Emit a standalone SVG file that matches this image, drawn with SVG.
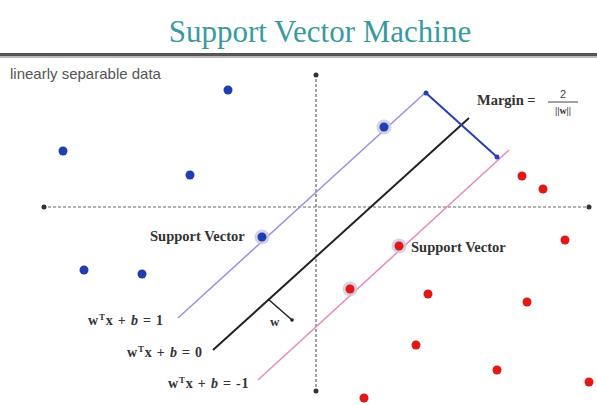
<svg xmlns="http://www.w3.org/2000/svg" width="597" height="405" viewBox="0 0 597 405">
<style>
.title{font-family:"Liberation Serif","Times New Roman",serif;font-size:31px;fill:#3a9a9c}
.lbl{font-family:"Liberation Serif","Times New Roman",serif;font-weight:bold;font-size:14.5px;fill:#333}
.eq{font-family:"Liberation Serif","Times New Roman",serif;font-weight:bold;font-size:14px;fill:#333;letter-spacing:0.8px}
.sans{font-family:"Liberation Sans",Arial,sans-serif;font-size:15px;fill:#555}
.axis{stroke:#666;stroke-width:1.2;stroke-dasharray:3,2;fill:none}
.blue{fill:#1f3fae}
.red{fill:#e01818}
.halo{fill:#c8c8dc;opacity:0.8}
</style>
<rect width="597" height="405" fill="#fff"/>
<text class="title" x="320" y="42" text-anchor="middle">Support Vector Machine</text>
<rect x="0" y="53" width="597" height="3" fill="#555"/>
<rect x="0" y="56" width="597" height="2" fill="#bbb"/>
<text class="sans" x="10" y="79">linearly separable data</text>
<g id="axes">
<line class="axis" x1="43" y1="207" x2="590" y2="207"/>
<line class="axis" x1="316" y1="74" x2="316" y2="392"/>
<circle cx="44" cy="207" r="2.5" fill="#333"/>
<circle cx="589" cy="207" r="2.5" fill="#333"/>
<circle cx="316" cy="75" r="2.5" fill="#333"/>
<circle cx="316" cy="391" r="2.5" fill="#333"/>
</g>
<g id="connectors">
<line id="hplus" x1="178" y1="318" x2="426" y2="92" stroke="#9a8ee0" stroke-width="1.5"/>
<line id="hzero" x1="213" y1="350" x2="469" y2="118" stroke="#222" stroke-width="2"/>
<line id="hminus" x1="258" y1="380" x2="509" y2="150" stroke="#e58ac0" stroke-width="1.5"/>
<line id="margin" x1="426" y1="93" x2="497" y2="157" stroke="#2a3fb0" stroke-width="2"/>
<circle cx="426" cy="93" r="2.5" fill="#2a3fb0"/>
<circle cx="497" cy="157" r="2.5" fill="#2a3fb0"/>
<line id="wvec" x1="268" y1="299" x2="292" y2="320" stroke="#222" stroke-width="1.5"/>
<circle cx="292" cy="320" r="1.8" fill="#222"/>
</g>
<g id="blue-points">
<circle class="blue" cx="228" cy="90" r="4.5"/>
<circle class="blue" cx="63" cy="151" r="4.5"/>
<circle class="blue" cx="190" cy="175" r="4.5"/>
<circle class="blue" cx="84" cy="270" r="4.5"/>
<circle class="blue" cx="142" cy="274" r="4.5"/>
<circle class="halo" cx="384" cy="127" r="7.5"/>
<circle class="blue" cx="384" cy="127" r="4.5"/>
<circle class="halo" cx="262" cy="237" r="7.5"/>
<circle class="blue" cx="262" cy="237" r="4.5"/>
</g>
<g id="red-points">
<circle class="red" cx="522" cy="176" r="4.5"/>
<circle class="red" cx="543" cy="189" r="4.5"/>
<circle class="red" cx="565" cy="240" r="4.5"/>
<circle class="halo" cx="399" cy="246" r="7.5"/>
<circle class="red" cx="399" cy="246" r="4.5"/>
<circle class="halo" cx="350" cy="289" r="7.5"/>
<circle class="red" cx="350" cy="289" r="4.5"/>
<circle class="red" cx="428" cy="294" r="4.5"/>
<circle class="red" cx="527" cy="302" r="4.5"/>
<circle class="red" cx="416" cy="345" r="4.5"/>
<circle class="red" cx="497" cy="370" r="4.5"/>
<circle class="red" cx="589" cy="382" r="4.5"/>
<circle class="red" cx="364" cy="398" r="4.5"/>
</g>
<g id="labels">
<text class="lbl" x="150" y="241">Support Vector</text>
<text class="lbl" x="411" y="252">Support Vector</text>
<text class="lbl" x="477" y="105">Margin =</text>
<text x="563" y="98" text-anchor="middle" style="font-family:'Liberation Sans',Arial,sans-serif;font-size:11px;fill:#444">2</text>
<line x1="548" y1="102" x2="578" y2="102" stroke="#444" stroke-width="1"/>
<text class="lbl" x="563" y="114" text-anchor="middle" style="font-size:10px">||w||</text>
<text class="lbl" x="270" y="326" style="font-size:13px">w</text>
<text class="eq" x="88" y="325">w<tspan font-size="9" dy="-5">T</tspan><tspan dy="5">x + </tspan><tspan font-style="italic">b</tspan> = 1</text>
<text class="eq" x="127" y="357">w<tspan font-size="9" dy="-5">T</tspan><tspan dy="5">x + </tspan><tspan font-style="italic">b</tspan> = 0</text>
<text class="eq" x="168" y="388">w<tspan font-size="9" dy="-5">T</tspan><tspan dy="5">x + </tspan><tspan font-style="italic">b</tspan> = -1</text>
</g>
</svg>
